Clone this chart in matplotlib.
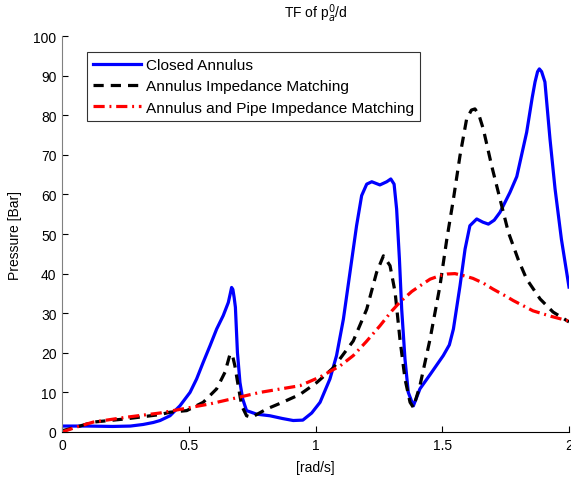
import matplotlib
matplotlib.use("Agg")
import matplotlib.pyplot as plt

plt.rcParams['font.family'] = ['Liberation Sans', 'DejaVu Sans']

closed_x = [0, 0.1, 0.2, 0.27, 0.32, 0.36, 0.387, 0.426, 0.465, 0.505, 0.531, 0.557, 0.584, 0.610,
            0.636, 0.656, 0.664, 0.669, 0.674, 0.679, 0.684, 0.692, 0.702, 0.713, 0.728, 0.768,
            0.82, 0.87, 0.912, 0.95, 0.985, 1.018, 1.057, 1.083, 1.110, 1.136, 1.162, 1.182,
            1.202, 1.222, 1.254, 1.281, 1.297, 1.31, 1.320, 1.331, 1.340, 1.353, 1.366, 1.386,
            1.412, 1.452, 1.504, 1.528, 1.544, 1.570, 1.590, 1.609, 1.636, 1.66, 1.682, 1.705,
            1.728, 1.767, 1.794, 1.833, 1.855, 1.866, 1.876, 1.883, 1.892, 1.905, 1.925, 1.945,
            1.97, 2.0]
closed_y = [1.5, 1.5, 1.4, 1.5, 1.9, 2.4, 2.9, 4.1, 6.6, 10, 13.4, 17.6, 21.8, 26,
            29.4, 32.7, 35, 36.5, 36, 34, 31.5, 20.1, 12.5, 8.3, 5.4, 4.5,
            4.1, 3.4, 2.9, 3.0, 4.8, 7.5, 13.4, 19.3, 28.5, 40.3, 52.1, 59.7,
            62.6, 63.2, 62.4, 63.2, 63.9, 62.6, 56.3, 43.7, 31, 18.4, 10, 6.6,
            10.9, 14.5, 19.3, 22, 26, 36.9, 46.2, 52.1, 53.8, 53, 52.5, 53.5,
            55.5, 60.5, 64.5, 75.7, 84.5, 88.4, 91, 91.7, 91, 88.4, 74, 61.4,
            48.7, 36.6]

ann_x = [0, 0.06, 0.123, 0.25, 0.387, 0.426, 0.492, 0.557, 0.61, 0.643, 0.663, 0.672, 0.682,
         0.695, 0.709, 0.728, 0.748, 0.807, 0.87, 0.939, 1.005, 1.07, 1.149, 1.202, 1.241,
         1.268, 1.294, 1.314, 1.333, 1.353, 1.373, 1.386, 1.412, 1.452, 1.491, 1.518, 1.544,
         1.570, 1.596, 1.615, 1.629, 1.645, 1.662, 1.695, 1.728, 1.761, 1.8, 1.833, 1.886,
         1.937, 2.0]
ann_y = [0.3, 1.3, 2.5, 3.3, 4.4, 5.0, 5.4, 7.5, 10.9, 15.1, 19.7, 19.5, 16.7,
         11.7, 6.6, 4.1, 3.7, 5.8, 7.5, 9.5, 12.5, 16.2, 23, 31, 40.3,
         44.5, 42, 35.3, 23.5, 13.4, 7.5, 6.2, 11.7, 23.5, 36.9, 48.7, 58.8,
         69.8, 79, 81.3, 81.6, 80, 76.5, 67.2, 58.8, 50.4, 43.5, 38.6, 33.6,
         30.3, 27.8]

pipe_x = [0, 0.06, 0.123, 0.25, 0.387, 0.584, 0.781, 0.939, 1.018, 1.097, 1.149, 1.2, 1.254,
          1.3, 1.333, 1.38, 1.412, 1.452, 1.491, 1.52, 1.55, 1.583, 1.621, 1.662, 1.7, 1.754,
          1.78, 1.858, 1.93, 2.0]
pipe_y = [0, 1.3, 2.5, 3.7, 4.8, 7.1, 10, 11.7, 13.9, 16.7, 19.3, 22.8, 26.8,
          30.5, 32.8, 35.5, 36.9, 38.6, 39.5, 39.9, 40, 39.5, 38.8, 37.6, 36.1, 34.2,
          33.2, 30.6, 29.2, 28]

labels = ['Closed Annulus', 'Annulus Impedance Matching', 'Annulus and Pipe Impedance Matching']
x_ticks = [0, 0.5, 1, 1.5, 2]
x_tick_labels = ['0', '0.5', '1', '1.5', '2']
y_ticks = [0, 10, 20, 30, 40, 50, 60, 70, 80, 90, 100]

fig = plt.figure(figsize=(5.71, 4.81), dpi=100)
ax = fig.add_axes([0.1086, 0.0998, 0.8879, 0.8232])

ax.plot(closed_x, closed_y, color='#0000ff', lw=2.3, label=labels[0])
ax.plot(ann_x, ann_y, color='black', lw=2.3, ls=(0, (3.2, 2.2)), label=labels[1])
ax.plot(pipe_x, pipe_y, color='#ff0000', lw=2.3, ls=(0, (3.5, 1.5, 0.6, 1.5)), label=labels[2])

ax.set_xlim(0, 2)
ax.set_ylim(0, 100)
ax.set_xticks(x_ticks)
ax.set_xticklabels(x_tick_labels)
ax.set_yticks(y_ticks)
ax.tick_params(direction='in', length=4, labelsize=10, colors='black', pad=4)
ax.spines['top'].set_visible(False)
ax.spines['right'].set_visible(False)
ax.spines['left'].set_color('#808080')
ax.spines['bottom'].set_color('black')

ax.set_xlabel('[rad/s]', fontsize=10, labelpad=6)
ax.set_ylabel('Pressure [Bar]', fontsize=10, labelpad=8)
ax.set_title(r'TF of p$_a^0$/d', fontsize=10, pad=14)

leg = ax.legend(loc='upper left', bbox_to_anchor=(0.049, 0.96), fontsize=11.1,
                handlelength=3.1, handletextpad=0.35, frameon=True, fancybox=False,
                edgecolor='black', borderpad=0.4, labelspacing=0.47, borderaxespad=0)
leg.get_frame().set_linewidth(0.8)

fig.savefig('out.png', dpi=100)
